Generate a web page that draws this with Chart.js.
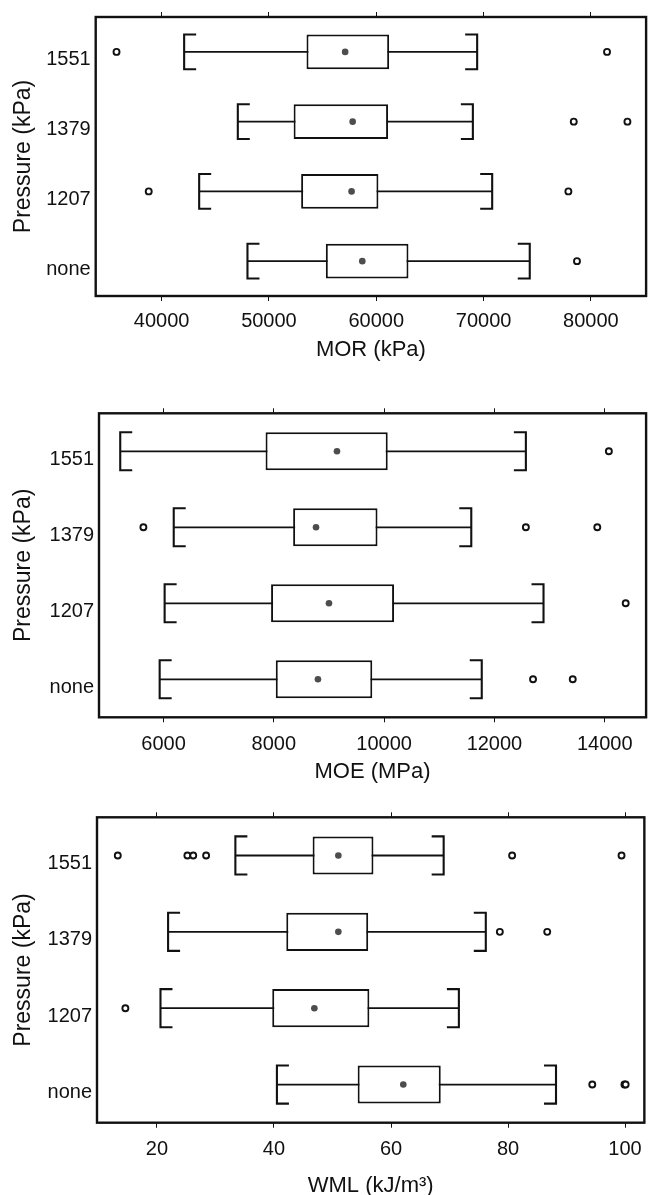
<!DOCTYPE html>
<html>
<head>
<meta charset="utf-8">
<script src="https://cdn.jsdelivr.net/npm/chart.js@4.4.0/dist/chart.umd.min.js"></script>
<style>
  html, body { margin: 0; padding: 0; background: #fff; overflow: hidden; width: 652px; height: 1195px; }
  canvas { position: absolute; left: 0; }
</style>
</head>
<body>
<canvas id="c1" width="652" height="370" style="top:0px"></canvas>
<canvas id="c2" width="652" height="400" style="top:390px"></canvas>
<canvas id="c3" width="652" height="395" style="top:800px"></canvas>
<script>
// ---------------- data ----------------
const CATEGORIES = ['none', '1207', '1379', '1551'];

const MOR_LOW  = [48000, 43500, 47100, 42100];
const MOR_Q1   = [55300, 53000, 52300, 53500];
const MOR_Q3   = [63000, 60200, 61100, 61200];
const MOR_MID  = [58700, 57700, 57800, 57100];
const MOR_HIGH = [74300, 70800, 69000, 69400];
const MOR_OUT  = [[78700], [38800, 77900], [78400, 83400], [35800, 81500]];
const MOR_TICKS = [40000, 50000, 60000, 70000, 80000];

const MOE_LOW  = [5930, 6020, 6185, 5215];
const MOE_Q1   = [8035, 7950, 8350, 7850];
const MOE_Q3   = [9785, 10180, 9880, 10065];
const MOE_MID  = [8800, 9000, 8765, 9145];
const MOE_HIGH = [11770, 12890, 11580, 12570];
const MOE_OUT  = [[12700, 13420], [14380], [5635, 12570, 13865], [14075]];
const MOE_TICKS = [6000, 8000, 10000, 12000, 14000];

const WML_LOW  = [40.5, 20.6, 21.9, 33.4];
const WML_Q1   = [54.3, 39.7, 42.1, 46.6];
const WML_Q3   = [68.5, 56.3, 56.1, 57.0];
const WML_MID  = [62.1, 46.9, 51.0, 51.0];
const WML_HIGH = [88.2, 71.6, 76.2, 69.0];
const WML_OUT  = [[94.4, 99.9, 100.1], [14.6], [78.6, 86.7], [13.3, 25.2, 26.2, 28.4, 80.7, 99.4]];
const WML_TICKS = [20, 40, 60, 80, 100];

// ---------------- style ----------------
const FONT = "'Liberation Sans', Arial, Helvetica, sans-serif";
const INK = '#111111';
Chart.defaults.font.family = FONT;
Chart.defaults.color = INK;

const ROWS = CATEGORIES.map((_, i) => i + 1);

const boxPlugin = {
  id: 'boxWhiskers',
  beforeDatasetsDraw(chart) {
    const o = chart.options.plugins.boxWhiskers;
    const { ctx } = chart;
    const x = chart.scales.x, y = chart.scales.y;
    const meta = chart.getDatasetMeta(0);
    const stub = 12;
    ctx.save();
    ctx.strokeStyle = INK;
    ctx.lineCap = 'butt';
    ROWS.forEach((r, i) => {
      const yp = y.getPixelForValue(r);
      const h = meta.data[i].height / 2;
      const xl = x.getPixelForValue(o.low[i]);
      const xh = x.getPixelForValue(o.high[i]);
      ctx.lineWidth = 1.8;
      ctx.beginPath();
      ctx.moveTo(xl, yp); ctx.lineTo(xh, yp);
      ctx.stroke();
      ctx.lineWidth = 2.1;
      ctx.beginPath();
      ctx.moveTo(xl + stub, yp - h); ctx.lineTo(xl, yp - h); ctx.lineTo(xl, yp + h); ctx.lineTo(xl + stub, yp + h);
      ctx.moveTo(xh - stub, yp - h); ctx.lineTo(xh, yp - h); ctx.lineTo(xh, yp + h); ctx.lineTo(xh - stub, yp + h);
      ctx.stroke();
    });
    ctx.restore();
  },
  afterDraw(chart) {
    const { ctx, chartArea: a } = chart;
    ctx.save();
    ctx.strokeStyle = INK;
    ctx.lineWidth = 2.4;
    ctx.strokeRect(a.left, a.top, a.right - a.left, a.bottom - a.top);
    ctx.restore();
  }
};

function makePanel(id, cfg) {
  const L = cfg.layout;
  const titleLH = 22 * 0.8;
  const bottomAxisH = L.titleCenter + titleLH / 2 - L.frameBottom;
  const topAxisH = 6;
  const padTop = L.frameTop - L.top - topAxisH;
  const padBottom = L.top + L.height - (L.titleCenter + titleLH / 2);
  const tickSetter = s => { s.ticks = cfg.ticks.map(v => ({ value: v })); };

  new Chart(document.getElementById(id), {
    type: 'bar',
    data: {
      datasets: [
        {
          type: 'bar',
          data: ROWS.map((r, i) => ({ y: r, x: [cfg.q1[i], cfg.q3[i]] })),
          backgroundColor: '#ffffff',
          borderColor: INK,
          borderWidth: 2,
          borderSkipped: false,
          barPercentage: 0.5,
          categoryPercentage: 1,
          order: 2
        },
        {
          type: 'scatter',
          data: ROWS.flatMap((r, i) => cfg.out[i].map(v => ({ x: v, y: r }))),
          pointStyle: 'circle',
          pointRadius: 3,
          pointBorderWidth: 1.9,
          pointBorderColor: INK,
          pointBackgroundColor: '#ffffff',
          order: 1
        },
        {
          type: 'scatter',
          data: ROWS.map((r, i) => ({ x: cfg.mid[i], y: r })),
          pointStyle: 'circle',
          pointRadius: 3.3,
          pointBorderWidth: 0,
          pointBackgroundColor: '#4d4d4d',
          order: 0
        }
      ]
    },
    options: {
      responsive: false,
      animation: false,
      events: [],
      indexAxis: 'y',
      layout: { padding: { top: padTop, bottom: padBottom, left: 0, right: 652 - L.frameRight } },
      plugins: {
        legend: { display: false },
        tooltip: { enabled: false },
        boxWhiskers: { low: cfg.low, high: cfg.high }
      },
      scales: {
        x: {
          type: 'linear', position: 'bottom', min: cfg.min, max: cfg.max, offset: false,
          afterBuildTicks: tickSetter,
          afterFit: s => { s.height = bottomAxisH; },
          ticks: { font: { size: 20 }, color: INK, padding: L.tickPad, maxRotation: 0, autoSkip: false, callback: v => String(v) },
          grid: { drawOnChartArea: false, drawTicks: true, tickLength: 5, color: INK, lineWidth: 1, offset: false },
          border: { display: false },
          title: { display: true, text: cfg.title, color: INK, font: { size: 22, lineHeight: 0.8 }, padding: 0 }
        },
        x2: {
          type: 'linear', position: 'top', min: cfg.min, max: cfg.max, offset: false,
          afterBuildTicks: tickSetter,
          afterFit: s => { s.height = topAxisH; },
          ticks: { display: false },
          grid: { drawOnChartArea: false, drawTicks: true, tickLength: 5, color: INK, lineWidth: 1, offset: false },
          border: { display: false }
        },
        y: {
          type: 'linear', position: 'left', min: 0.5, max: 4.5, offset: false,
          afterBuildTicks: s => { s.ticks = ROWS.map(v => ({ value: v })); },
          afterFit: s => { s.width = L.frameLeft; },
          ticks: { font: { size: 20 }, color: INK, padding: 5, labelOffset: 8,
                   callback: v => CATEGORIES[ROWS.indexOf(v)] },
          grid: { display: false, drawTicks: false, offset: false },
          border: { display: false },
          title: { display: true, text: 'Pressure (kPa)', color: INK, font: { size: 23, lineHeight: 0.8 }, padding: { top: 14, bottom: 0 } }
        }
      }
    },
    plugins: [boxPlugin]
  });
}

makePanel('c1', {
  title: 'MOR (kPa)', min: 33860, max: 85140, ticks: MOR_TICKS,
  low: MOR_LOW, q1: MOR_Q1, q3: MOR_Q3, mid: MOR_MID, high: MOR_HIGH, out: MOR_OUT,
  layout: { top: 0, height: 370, frameTop: 11.7, frameBottom: 296, titleCenter: 350, frameLeft: 95.7, frameRight: 649.5, tickPad: 8.5 }
});
makePanel('c2', {
  title: 'MOE (MPa)', min: 4830, max: 14750, ticks: MOE_TICKS,
  low: MOE_LOW, q1: MOE_Q1, q3: MOE_Q3, mid: MOE_MID, high: MOE_HIGH, out: MOE_OUT,
  layout: { top: 390, height: 400, frameTop: 413.3, frameBottom: 717.3, titleCenter: 772, frameLeft: 99, frameRight: 649.5, tickPad: 10 }
});
makePanel('c3', {
  title: 'WML (kJ/m\u00B3)', min: 9.75, max: 103.3, ticks: WML_TICKS,
  low: WML_LOW, q1: WML_Q1, q3: WML_Q3, mid: WML_MID, high: WML_HIGH, out: WML_OUT,
  layout: { top: 800, height: 395, frameTop: 817.3, frameBottom: 1122.7, titleCenter: 1185.5, frameLeft: 97, frameRight: 649.5, tickPad: 10 }
});
</script>
</body>
</html>
